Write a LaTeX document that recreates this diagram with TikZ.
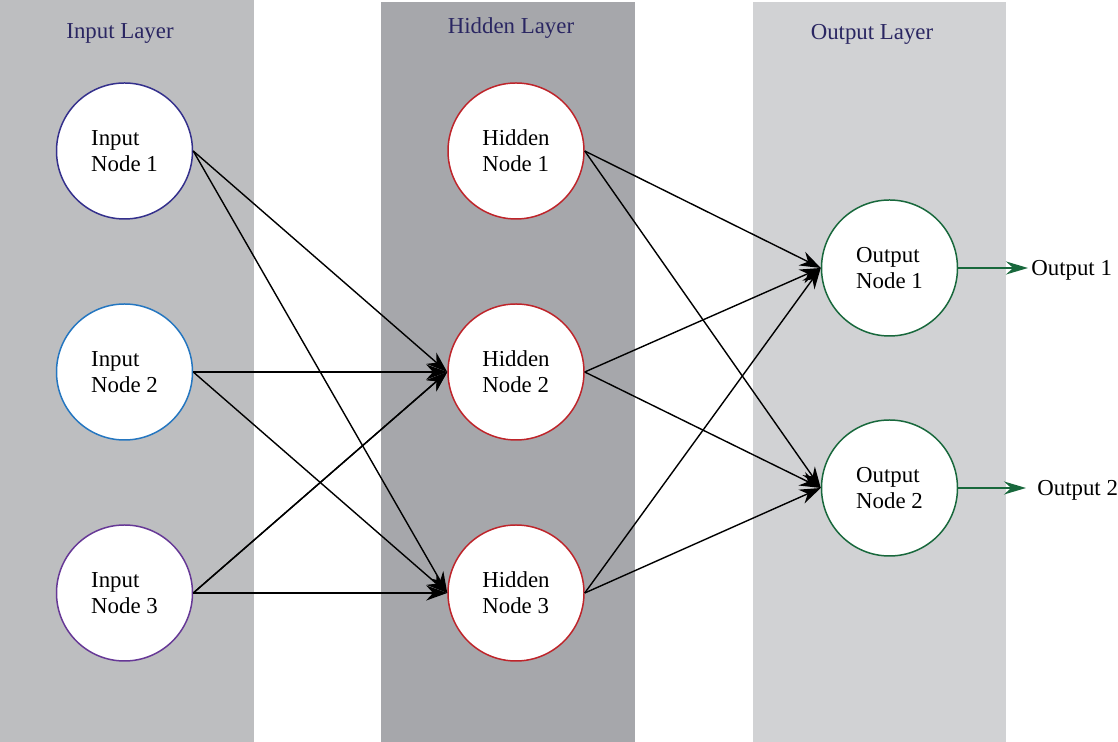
\documentclass[tikz,border=0pt]{standalone}
\usepackage{fontspec}
\setmainfont{Liberation Serif}
\usetikzlibrary{arrows.meta}
\definecolor{bandin}{RGB}{189,190,192}
\definecolor{bandhid}{RGB}{166,167,171}
\definecolor{bandout}{RGB}{209,210,212}
\definecolor{titlecol}{RGB}{42,38,98}
\definecolor{innavy}{RGB}{52,48,140}
\definecolor{inblue}{RGB}{36,118,192}
\definecolor{inpurple}{RGB}{102,56,150}
\definecolor{hidred}{RGB}{190,36,42}
\definecolor{outgreen}{RGB}{24,104,60}
\tikzset{
  neuron/.style={minimum size=2.72cm,draw,circle,fill=white,line width=0.85pt,align=left,inner sep=0pt},
  title/.style={text=titlecol},
  link/.style={-{Stealth[length=0.42cm,width=0.3cm]},line width=0.8pt},
  outlink/.style={-{Stealth[length=0.44cm,width=0.26cm]},line width=1pt,draw=outgreen}
}
\begin{document}
\begin{tikzpicture}[font=\fontsize{13}{14.8}\selectfont]
\useasboundingbox (0,0) rectangle (22.36,14.84);
\fill[bandin] (0,0) rectangle (5.08,14.84);
\fill[bandhid] (7.62,0) rectangle (12.70,14.80);
\fill[bandout] (15.06,0) rectangle (20.12,14.80);
\draw (2.40,14.18) node[title](tin) {Input Layer};
\draw (10.22,14.28) node[title](thid) {Hidden Layer};
\draw (17.44,14.16) node[title](tout) {Output Layer};
\draw (2.49,11.82) node[neuron,draw=innavy](in1) {Input\\Node 1};
\draw (2.49,7.40) node[neuron,draw=inblue](in2) {Input\\Node 2};
\draw (2.49,2.98) node[neuron,draw=inpurple](in3) {Input\\Node 3};
\draw (10.32,11.82) node[neuron,draw=hidred](hid1) {Hidden\\Node 1};
\draw (10.32,7.40) node[neuron,draw=hidred](hid2) {Hidden\\Node 2};
\draw (10.32,2.98) node[neuron,draw=hidred](hid3) {Hidden\\Node 3};
\draw (17.79,9.48) node[neuron,draw=outgreen](out1) {Output\\Node 1};
\draw (17.79,5.08) node[neuron,draw=outgreen](out2) {Output\\Node 2};
\draw (20.62,9.44) node[anchor=west,inner sep=0pt](res1) {Output 1};
\draw (20.74,5.04) node[anchor=west,inner sep=0pt](res2) {Output 2};
\foreach \a in {in1,in2,in3}
  \foreach \b in {hid2,hid3}
    \draw[link] (\a.east) -- (\b.west);
\draw[link] (in3.east) -- (hid2.west);
\foreach \a in {hid1,hid2,hid3}
  \foreach \b in {out1,out2}
    \draw[link] (\a.east) -- (\b.west);
\draw[outlink] (out1.east) -- ([xshift=-0.06cm]res1.west |- out1.east);
\draw[outlink] (out2.east) -- ([xshift=-0.22cm]res2.west |- out2.east);
\end{tikzpicture}
\end{document}
